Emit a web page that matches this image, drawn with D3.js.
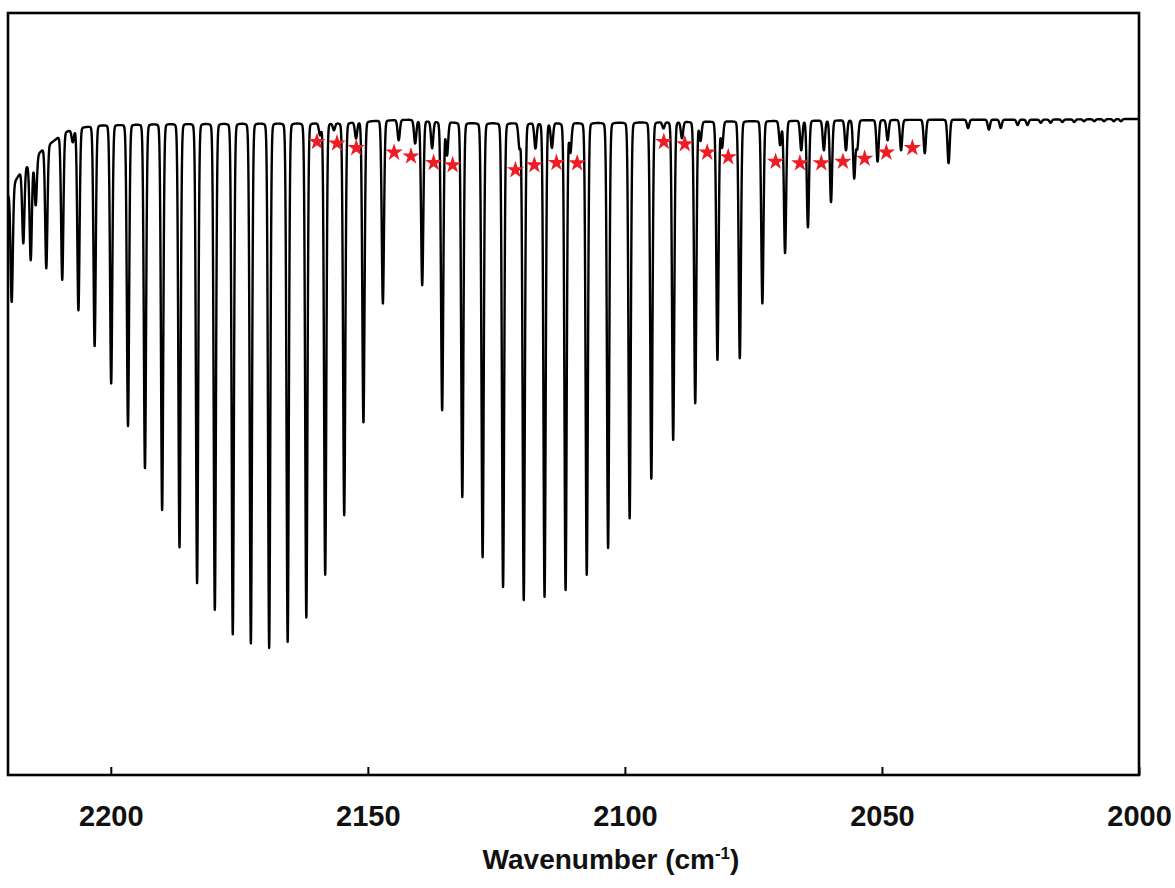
<!DOCTYPE html>
<html><head><meta charset="utf-8">
<script src="https://cdn.jsdelivr.net/npm/d3@7"></script>
<style>body{margin:0;background:#fff}</style>
</head><body><svg id="c" width="1175" height="888"></svg>
<script>
// ---- data ----
const xDomain = [2220, 2000];            // wavenumber (cm-1), reversed axis
const yDomain = [0, 100];                // transmittance (%), no visible axis
const tickValues = [2200, 2150, 2100, 2050, 2000];
const xTitle = "Wavenumber (cm";
const xTitleSup = "-1";

// baseline (local continuum) of the spectrum
const baseWn = [2220, 2218.5, 2217, 2215.5, 2214, 2213, 2211, 2209, 2206, 2202, 2190, 2170, 2155, 2148, 2142, 2138, 2130, 2110, 2095, 2080, 2060, 2040, 2020, 2000];
const baseT  = [76.1, 78.1, 79.7, 80.3, 81.6, 82.3, 83.3, 84.4, 85.0, 85.3, 85.5, 85.6, 85.6, 85.9, 86.0, 85.8, 85.6, 85.6, 85.7, 85.8, 85.9, 86.0, 86.0, 86.1];

// absorption lines: centre (cm-1) and transmittance at the line minimum (%)
const lineWn = [
  2219.28, 2217.02, 2215.58, 2214.61, 2212.55, 2209.45, 2207.4, 2206.3, 2203.15, 2199.93,
  2196.66, 2193.36, 2190.02, 2186.64, 2183.22, 2179.77, 2176.28, 2172.76, 2169.20, 2165.60,
  2161.97, 2158.30, 2154.60, 2150.86, 2147.08,
  2159.3, 2156.6, 2152.3, 2144.0, 2140.8,
  2139.43, 2135.55, 2131.63, 2127.68, 2123.70, 2119.68, 2115.63, 2111.54, 2107.42, 2103.27,
  2099.08, 2094.86, 2090.61, 2086.32, 2082.00, 2077.65, 2073.26, 2068.85, 2064.40, 2059.91,
  2055.40, 2050.85, 2046.28, 2041.67, 2037.04,
  2137.5, 2134.6, 2120.5, 2117.4, 2114.2, 2110.6, 2092.5, 2088.9, 2085.3, 2081.1,
  2069.8, 2065.7, 2061.3, 2057.0, 2054.8, 2048.9,
  2033.25, 2029.2, 2026.9, 2023.6, 2021.7, 2019.1, 2017.2, 2014.9, 2012.6, 2010.7,
  2008.7, 2006.8, 2004.9, 2003.5
];
const lineMinT = [
  62.1, 69.8, 67.6, 74.8, 66.5, 65.0, 83.1, 61.0, 56.3, 51.4,
  45.8, 40.3, 34.8, 29.9, 25.2, 21.7, 18.5, 17.3, 16.7, 17.5,
  20.7, 26.3, 34.1, 46.3, 61.9,
  84.1, 84.7, 83.6, 83.3, 82.9,
  64.3, 47.9, 36.5, 28.6, 24.7, 23.0, 23.4, 24.3, 26.3, 29.8,
  33.7, 38.9, 44.0, 48.8, 54.5, 54.7, 61.9, 68.5, 71.9, 75.2,
  78.4, 80.5, 82.0, 81.6, 80.3,
  82.3, 81.4, 82.4, 82.3, 82.4, 81.8, 84.9, 83.6, 83.3, 82.4,
  82.7, 82.0, 82.0, 82.0, 82.3, 83.3,
  84.9, 84.7, 84.9, 85.3, 85.3, 85.6, 85.6, 85.7, 85.7, 85.8,
  85.8, 85.8, 85.8, 85.8
];

// red star markers
const starWn = [2159.91, 2156.01, 2152.26, 2144.9, 2141.61, 2137.21, 2133.51, 2121.30, 2117.61, 2113.32,
  2109.29, 2092.43, 2088.35, 2083.99, 2079.90, 2070.69, 2065.96, 2061.80, 2057.59, 2053.37, 2049.14, 2044.08];
const starT = [83.1, 82.9, 82.3, 81.7, 81.2, 80.35, 80.05, 79.4, 80.05, 80.35,
  80.3, 83.1, 82.8, 81.7, 81.1, 80.5, 80.3, 80.3, 80.5, 80.9, 81.7, 82.3];

// ---- drawing ----
const m = {left: 8, right: 1139, top: 13, bottom: 775};
const svg = d3.select("#c");
const x = d3.scaleLinear().domain(xDomain).range([m.left, m.right]);
const y = d3.scaleLinear().domain(yDomain).range([m.bottom, m.top]);
const base = d3.scaleLinear().domain(baseWn).range(baseT).clamp(true);

// pseudo-Voigt line shape (Gaussian core + small Lorentzian wing)
const sigma = 0.22, gamma = 0.2, eta = 0.06;
const shape = dx => (1 - eta) * Math.exp(-dx * dx / (2 * sigma * sigma)) + eta / (1 + (dx / gamma) ** 2);
const lines = lineWn.map((c, i) => ({c, d: base(c) - lineMinT[i]}));
const xs = d3.range(2000, 2220.0001, 0.025).concat(lineWn).sort(d3.ascending);
const spectrum = xs.map(v => {
  let t = base(v);
  for (const l of lines) {
    const dx = v - l.c;
    if (Math.abs(dx) < 6) t -= l.d * shape(dx);
  }
  return [v, t];
});

svg.append("defs").append("clipPath").attr("id", "clip")
  .append("rect").attr("x", m.left).attr("y", m.top)
  .attr("width", m.right - m.left).attr("height", m.bottom - m.top);

svg.append("path").datum(spectrum)
  .attr("clip-path", "url(#clip)")
  .attr("fill", "none").attr("stroke", "#000").attr("stroke-width", 2.4)
  .attr("stroke-linejoin", "round")
  .attr("d", d3.line().x(d => x(d[0])).y(d => y(d[1])));

svg.append("g").selectAll("path").data(starWn).join("path")
  .attr("transform", (d, i) => `translate(${x(d)},${y(starT[i])})`)
  .attr("d", d3.symbol(d3.symbolStar).size(95))
  .attr("fill", "#ee1c25");

// x axis
const ax = svg.append("g").attr("transform", `translate(0,${m.bottom})`)
  .call(d3.axisBottom(x).tickValues(tickValues).tickSize(-8).tickSizeOuter(0).tickFormat(d3.format("d")));
ax.select(".domain").remove();
ax.selectAll(".tick line").attr("stroke", "#000").attr("stroke-width", 2);
ax.selectAll(".tick text").attr("y", 51).attr("dy", 0)
  .attr("font-family", "Arial, 'Liberation Sans', sans-serif")
  .attr("font-weight", "bold").attr("font-size", 29).attr("fill", "#111");

// frame
svg.append("rect").attr("x", m.left).attr("y", m.top)
  .attr("width", m.right - m.left).attr("height", m.bottom - m.top)
  .attr("fill", "none").attr("stroke", "#000").attr("stroke-width", 2.6);

// axis title
const t = svg.append("text").attr("x", 611).attr("y", 869)
  .attr("text-anchor", "middle")
  .attr("font-family", "Arial, 'Liberation Sans', sans-serif")
  .attr("font-weight", "bold").attr("font-size", 28).attr("fill", "#111");
t.append("tspan").text(xTitle);
t.append("tspan").attr("dy", -10).attr("font-size", 17).text(xTitleSup);
t.append("tspan").attr("dy", 10).text(")");
</script>
</body></html>
